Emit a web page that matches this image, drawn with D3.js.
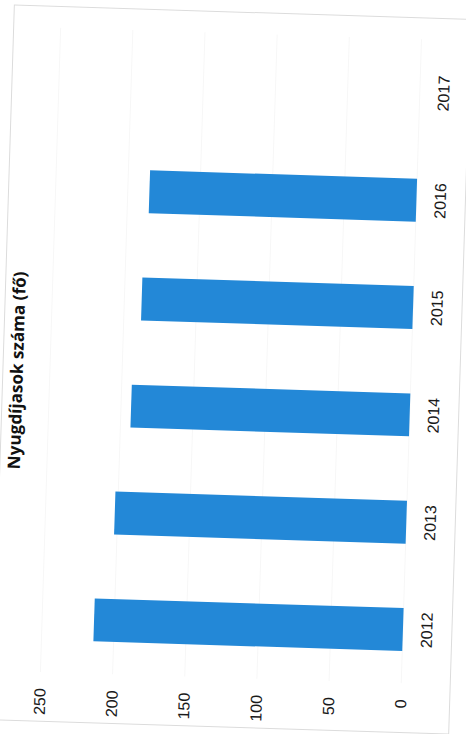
<!DOCTYPE html>
<html>
<head>
<meta charset="utf-8">
<script src="https://cdn.jsdelivr.net/npm/d3@7"></script>
<style>
  html, body { margin: 0; padding: 0; background: #ffffff; }
  svg { display: block; }
</style>
</head>
<body>
<svg id="chart" width="466" height="734"></svg>
<script>
// ---- data ----
const categories = ["2012", "2013", "2014", "2015", "2016", "2017"];
const values = [214, 202, 193, 188, 185, 0];
const yTicks = [0, 50, 100, 150, 200, 250];
const titleText = "Nyugdíjasok száma (fő)";

const W = 466, H = 734;
const svg = d3.select("#chart");

// scanned page is rotated 90° and slightly tilted
const tilt = svg.append("g").attr("transform", "rotate(1.8,230,370)");
// chart frame: x runs bottom->top of the page, y runs left->right
const frame = tilt.append("g").attr("transform", `translate(0,${H}) rotate(-90)`);

const x = d3.scaleBand()
  .domain(categories)
  .range([56.3, 700.7])
  .paddingInner(0.6)
  .paddingOuter(0.3);

const y = d3.scaleLinear().domain([0, 250]).range([411, 50]);

// chart area border
frame.append("rect")
  .attr("x", 7).attr("y", 3)
  .attr("width", 715).attr("height", 457)
  .attr("fill", "none")
  .attr("stroke", "#dcdcdc")
  .attr("stroke-width", 1);

// gridlines (very faint on the scan)
frame.append("g")
  .selectAll("line")
  .data(yTicks)
  .join("line")
  .attr("x1", x.range()[0]).attr("x2", x.range()[1])
  .attr("y1", d => y(d)).attr("y2", d => y(d))
  .attr("stroke", "#f7f7f7")
  .attr("stroke-width", 1);

// bars
frame.append("g")
  .selectAll("rect")
  .data(categories.map((c, i) => ({ c, v: values[i] })))
  .join("rect")
  .attr("x", d => x(d.c))
  .attr("width", x.bandwidth())
  .attr("y", d => y(d.v))
  .attr("height", d => y(0) - y(d.v))
  .attr("fill", "#2388d7");

// value axis labels
const yAxis = d3.axisLeft(y).tickValues(yTicks).tickSize(0).tickPadding(0);
const yg = frame.append("g").attr("transform", "translate(40,0)").call(yAxis);
yg.select(".domain").remove();
yg.selectAll("text")
  .attr("font-family", "'Liberation Sans', Arial, sans-serif")
  .attr("font-size", 16)
  .attr("fill", "#1a1a1a");

// category labels
const xAxis = d3.axisBottom(x).tickSize(0).tickPadding(0);
const xg = frame.append("g").attr("transform", "translate(0,429)").call(xAxis);
xg.select(".domain").remove();
xg.selectAll("text")
  .attr("font-family", "'Liberation Sans', Arial, sans-serif")
  .attr("font-size", 16)
  .attr("fill", "#1a1a1a");

// title
const t = frame.append("text")
  .attr("x", 357).attr("y", 17)
  .attr("dy", "0.35em")
  .attr("text-anchor", "middle")
  .attr("font-family", "'Open Sans', 'Liberation Sans', sans-serif")
  .attr("font-weight", "bold")
  .attr("font-size", 18)
  .attr("fill", "#111111")
  .text(titleText);
const len = t.node().getComputedTextLength();
t.attr("font-size", 18 * 198 / len);
</script>
</body>
</html>
